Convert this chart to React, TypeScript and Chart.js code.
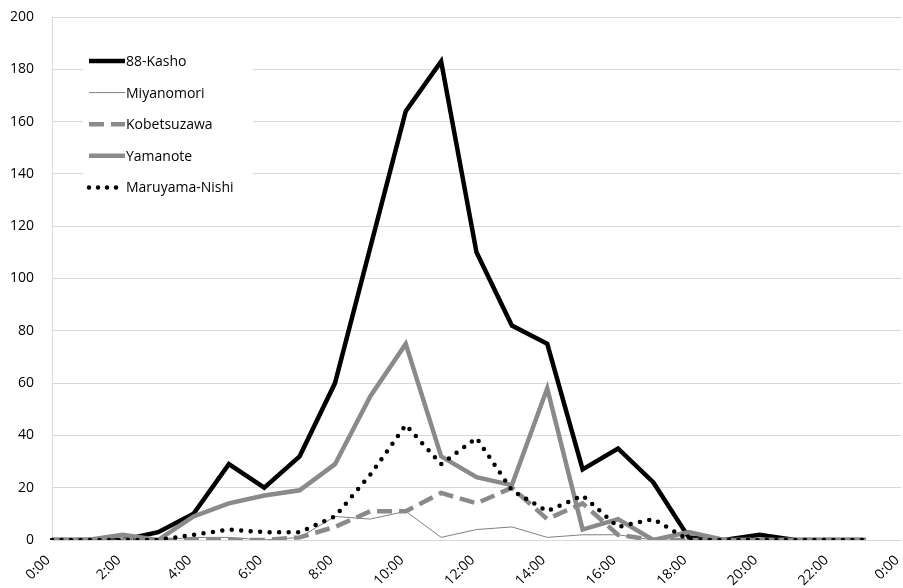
import { useEffect, useRef } from "react";
import { Chart, registerables } from "chart.js";

Chart.register(...registerables);

const hourLabels = [
  "0:00", "1:00", "2:00", "3:00", "4:00", "5:00", "6:00", "7:00", "8:00", "9:00",
  "10:00", "11:00", "12:00", "13:00", "14:00", "15:00", "16:00", "17:00", "18:00",
  "19:00", "20:00", "21:00", "22:00", "23:00", "0:00",
];
const seriesNames = ["88-Kasho", "Miyanomori", "Kobetsuzawa", "Yamanote", "Maruyama-Nishi"];
const kasho = [0, 0, 0, 3, 10, 29, 20, 32, 60, 112, 164, 183, 110, 82, 75, 27, 35, 22, 1, 0, 2, 0, 0, 0];
const miyanomori = [0, 0, 0, 0, 1, 1, 0, 1, 9, 8, 11, 1, 4, 5, 1, 2, 2, 0, 0, 0, 0, 0, 0, 0];
const kobetsuzawa = [0, 0, 0, 0, 0, 0, 0, 1, 5, 11, 11, 18, 14, 20, 8, 14, 2, 0, 0, 0, 0, 0, 0, 0];
const yamanote = [0, 0, 2, 0, 9, 14, 17, 19, 29, 55, 75, 32, 24, 21, 58, 4, 8, 0, 3, 0, 0, 0, 0, 0];
const maruyama = [0, 0, 0, 0, 2, 4, 3, 3, 9, 25, 44, 29, 39, 19, 11, 17, 5, 8, 0, 0, 0, 0, 0, 0];

const FONT = "'Open Sans'";
const GRAY = "#8a8a8a";

type Style = { color: string; width: number; dash: number[]; cap: CanvasLineCap };
const styles: Style[] = [
  { color: "#000000", width: 4.5, dash: [], cap: "butt" },
  { color: "#808080", width: 1, dash: [], cap: "butt" },
  { color: GRAY, width: 4.5, dash: [15, 7], cap: "butt" },
  { color: GRAY, width: 4.5, dash: [], cap: "butt" },
  { color: "#000000", width: 4.5, dash: [0, 9.5], cap: "round" },
];

const legendPlugin = {
  id: "insideLegend",
  afterDraw(chart: any) {
    const ctx = chart.ctx as CanvasRenderingContext2D;
    const a = chart.chartArea;
    ctx.save();
    ctx.fillStyle = "#ffffff";
    ctx.fillRect(a.left + 31, 40, 170, 165);
    ctx.font = `14px ${FONT}`;
    ctx.textBaseline = "middle";
    ctx.textAlign = "left";
    seriesNames.forEach((name, i) => {
      const y = 61 + i * 31.6;
      const s = styles[i];
      ctx.beginPath();
      ctx.strokeStyle = s.color;
      ctx.lineWidth = s.width;
      ctx.setLineDash(i === 4 ? [0, 9] : s.dash);
      ctx.lineCap = s.cap;
      ctx.moveTo(a.left + 37, y);
      ctx.lineTo(a.left + 73, y);
      ctx.stroke();
      ctx.setLineDash([]);
      ctx.fillStyle = "#000000";
      ctx.fillText(name, a.left + 74, y + 1);
    });
    ctx.restore();
  },
};

export default function App() {
  const ref = useRef<HTMLCanvasElement | null>(null);
  useEffect(() => {
    if (!ref.current) return;
    const values = [kasho, miyanomori, kobetsuzawa, yamanote, maruyama];
    const chart = new Chart(ref.current, {
      type: "line",
      data: {
        labels: hourLabels,
        datasets: values.map((v, i) => ({
          label: seriesNames[i],
          data: v,
          borderColor: styles[i].color,
          borderWidth: styles[i].width,
          borderDash: styles[i].dash,
          borderCapStyle: styles[i].cap,
          borderJoinStyle: "miter" as CanvasLineJoin,
          pointRadius: 0,
          tension: 0,
          fill: false,
          order: 4 - i,
        })),
      },
      options: {
        animation: false,
        responsive: false,
        devicePixelRatio: 1,
        layout: { padding: { top: 0, right: 2, left: 0, bottom: 0 } },
        plugins: { legend: { display: false }, tooltip: { enabled: false } },
        scales: {
          x: {
            type: "category",
            offset: false,
            grid: { display: false, drawTicks: false },
            border: { display: true, color: "#d9d9d9", width: 1 },
            ticks: {
              autoSkip: false,
              maxRotation: 45,
              minRotation: 45,
              padding: 12,
              labelOffset: -4,
              color: "#000000",
              font: { family: FONT, size: 14 },
              callback: (_v: any, idx: number) => (idx % 2 === 0 ? hourLabels[idx] : ""),
            },
            afterFit: (s: any) => {
              s.height = 48;
              s.paddingRight = 0;
            },
          },
          y: {
            min: 0,
            max: 200,
            grid: { color: "#d9d9d9", lineWidth: 1, drawTicks: false },
            border: { display: true, color: "#d9d9d9", width: 1 },
            ticks: {
              stepSize: 20,
              padding: 18,
              color: "#000000",
              font: { family: FONT, size: 14 },
            },
            afterFit: (s: any) => {
              s.width = 52;
              s.paddingTop = 17;
              s.paddingBottom = 0;
            },
          },
        },
      },
      plugins: [legendPlugin],
    });
    return () => chart.destroy();
  }, []);
  return (
    <div style={{ position: "absolute", left: 0, top: 0, width: 903, height: 588, background: "#fff" }}>
      <canvas ref={ref} width={903} height={588} style={{ display: "block" }} />
    </div>
  );
}
